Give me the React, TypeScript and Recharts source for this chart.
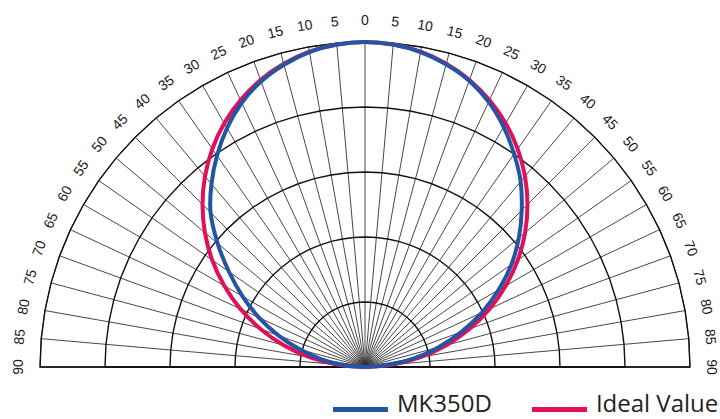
import React from 'react';
import { RadarChart, Radar, PolarGrid, PolarAngleAxis, PolarRadiusAxis } from 'recharts';

// incidence angle (deg), left side negative
const angles = [
  -90, -85, -80, -75, -70, -65, -60, -55, -50, -45, -40, -35, -30, -25, -20, -15, -10, -5,
  0, 5, 10, 15, 20, 25, 30, 35, 40, 45, 50, 55, 60, 65, 70, 75, 80, 85, 90,
];

// relative response
const mk350d = [
  0, 0.065, 0.136, 0.207, 0.284, 0.36, 0.435, 0.511, 0.592, 0.672, 0.735, 0.794, 0.849, 0.897, 0.935, 0.963, 0.984, 0.996,
  1, 0.996, 0.984, 0.964, 0.937, 0.9, 0.853, 0.8, 0.745, 0.682, 0.618, 0.55, 0.475, 0.397, 0.315, 0.233, 0.153, 0.074, 0,
];

const idealValue = [
  0, 0.087, 0.174, 0.259, 0.342, 0.423, 0.5, 0.574, 0.643, 0.707, 0.766, 0.819, 0.866, 0.906, 0.94, 0.966, 0.985, 0.996,
  1, 0.996, 0.985, 0.966, 0.94, 0.906, 0.866, 0.819, 0.766, 0.707, 0.643, 0.574, 0.5, 0.423, 0.342, 0.259, 0.174, 0.087, 0,
];

const data = angles.map((a, i) => ({ angle: a, mk: mk350d[i], ideal: idealValue[i] }));

const BLUE = '#2455a4';
const RED = '#e2105a';
const R = 325;
const rings = [1, 2, 3, 4, 5].map((i) => (i * R) / 5);

const AngleTick = (props: any) => {
  const { x, y, payload } = props;
  const v = Number(payload.value);
  return (
    <text
      x={x}
      y={y}
      transform={`rotate(${v}, ${x}, ${y})`}
      textAnchor="middle"
      dominantBaseline="central"
      fontSize={14}
      fill="#1a1a1a"
      fontFamily="'Liberation Sans', Arial, sans-serif"
    >
      {Math.abs(v)}
    </text>
  );
};

// smooth the radar outline (catmull-rom through the scaled points)
const SmoothShape = (props: any) => {
  const pts = props.points || [];
  if (pts.length < 2) return null;
  let d = `M${pts[0].x},${pts[0].y}`;
  for (let i = 0; i < pts.length - 1; i++) {
    const p0 = pts[i - 1] || pts[i];
    const p1 = pts[i];
    const p2 = pts[i + 1];
    const p3 = pts[i + 2] || p2;
    const c1x = p1.x + (p2.x - p0.x) / 6;
    const c1y = p1.y + (p2.y - p0.y) / 6;
    const c2x = p2.x - (p3.x - p1.x) / 6;
    const c2y = p2.y - (p3.y - p1.y) / 6;
    d += ` C${c1x},${c1y} ${c2x},${c2y} ${p2.x},${p2.y}`;
  }
  return <path d={d} fill="none" stroke={props.stroke} strokeWidth={props.strokeWidth} strokeLinejoin="round" />;
};

export default function App() {
  return (
    <div style={{ position: 'absolute', left: 0, top: 0, width: 720, height: 419, background: '#fff', overflow: 'hidden' }}>
      <RadarChart
        width={720}
        height={419}
        data={data}
        cx={365}
        cy={367}
        outerRadius={R}
        startAngle={180}
        endAngle={-5}
        margin={{ top: 0, right: 0, bottom: 0, left: 0 }}
      >
        {/* spokes */}
        <PolarGrid gridType="polygon" stroke="#333" strokeWidth={0.9} polarRadius={[R]} />
        {/* rings */}
        <PolarGrid gridType="polygon" radialLines={false} stroke="#111" strokeWidth={1.4} polarRadius={rings} />
        <PolarAngleAxis dataKey="angle" tick={<AngleTick />} tickLine={false} axisLine={false} tickSize={22} />
        <PolarRadiusAxis domain={[0, 1]} tickCount={6} tick={false} axisLine={false} />
        <Radar name="Ideal Value" dataKey="ideal" stroke={RED} strokeWidth={4} fill="none" isAnimationActive={false} dot={false} shape={<SmoothShape />} />
        <Radar name="MK350D" dataKey="mk" stroke={BLUE} strokeWidth={4} fill="none" isAnimationActive={false} dot={false} shape={<SmoothShape />} />
      </RadarChart>
      <div style={{ position: 'absolute', left: 333, top: 390, display: 'flex', alignItems: 'center', fontFamily: "'Open Sans', sans-serif", fontSize: 24, color: '#222', whiteSpace: 'nowrap', lineHeight: '26px' }}>
        <span style={{ display: 'inline-block', width: 55, height: 5, background: BLUE, marginRight: 9, marginTop: 12 }} />
        <span>MK350D</span>
        <span style={{ display: 'inline-block', width: 55, height: 5, background: RED, marginLeft: 40, marginRight: 9, marginTop: 12 }} />
        <span>Ideal Value</span>
      </div>
    </div>
  );
}
